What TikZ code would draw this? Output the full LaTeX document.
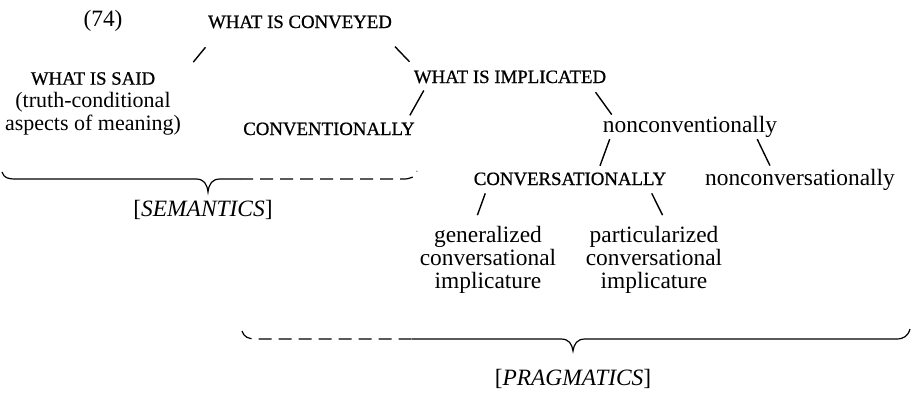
\documentclass[tikz,border=0pt]{standalone}
\usepackage{fontspec}
\setmainfont{Liberation Serif}
\newfontfamily\capsfont[FakeBold=0.8]{Liberation Serif}
\begin{document}
\begin{tikzpicture}[x=1pt, y=-1pt,
        font=\fontsize{23.4}{23}\selectfont,
        every node/.style={inner sep=0pt},
        lab/.style={anchor=base},
        caps/.style={anchor=base, font=\capsfont\fontsize{18.8}{23}\selectfont},
        block/.style={anchor=north, align=center},
        branch/.style={line width=1.4pt},
        bracket/.style={line width=1.2pt},
        gap/.style={bracket, dash pattern=on 13pt off 7pt}]
        \useasboundingbox (0,0) rectangle (914,392);

        % Tree labels
        \node (num) at (103,26) [lab] {(74)};
        \node (conveyed) at (300,28) [caps] {WHAT IS CONVEYED};
        \node (said) at (93,72) [block, font=\fontsize{22}{23}\selectfont] {{\capsfont\fontsize{18.8}{23}\selectfont WHAT IS SAID}\\(truth-conditional\\aspects of meaning)};
        \node (implicated) at (510,83) [caps] {WHAT IS IMPLICATED};
        \node (conv) at (329,135) [caps] {CONVENTIONALLY};
        \node (nonconv) at (690,132) [lab] {nonconventionally};
        \node (convers) at (570,185) [caps] {CONVERSATIONALLY};
        \node (nonconvers) at (800,185) [lab] {nonconversationally};
        \node (general) at (488,226) [block] {generalized\\conversational\\implicature};
        \node (partic) at (654,226) [block] {particularized\\conversational\\implicature};

        % Branches
        \draw[branch, shorten <=24.3pt, shorten >=12.8pt] ([xshift=13pt]conveyed.south west) -- ([xshift=4pt]said.north east);
        \draw[branch, shorten <=25.1pt, shorten >=11.9pt] ([xshift=-14.5pt]conveyed.south east) -- ([xshift=4pt]implicated.north west);
        \draw[branch, shorten <=8pt, shorten >=8pt] ([xshift=14pt]implicated.south west) -- ([xshift=-9pt]conv.north east);
        \draw[branch, shorten <=10.7pt, shorten >=1.2pt] ([xshift=-17pt]implicated.south east) -- ([xshift=9.7pt]nonconv.north west);
        \draw[branch, shorten <=2pt, shorten >=7pt] ([xshift=7.7pt]nonconv.south west) -- ([xshift=27.6pt]convers.north);
        \draw[branch, shorten <=2.1pt, shorten >=3.3pt] ([xshift=-21pt]nonconv.south east) -- ([xshift=-28.6pt]nonconvers.north);
        \draw[branch, shorten <=8.4pt, shorten >=11.5pt] ([xshift=14.5pt]convers.south west) -- ([xshift=-14.5pt]general.north);
        \draw[branch, shorten <=8.8pt, shorten >=12.1pt] ([xshift=-18.6pt]convers.south east) -- ([xshift=14pt]partic.north);

        % Semantics brace
        \draw[bracket] (2,172) .. controls (4,178) and (8,179) .. (16,179) -- (196,179)
            .. controls (204,179) and (207,184) .. (208,192)
            .. controls (209,184) and (212,179) .. (220,179) -- (240,179);
        \draw[gap] (240,179) -- (403,179) .. controls (411,179) and (415,177) .. (417,171);
        \node (sem) at (203,216) [lab] {[\textit{SEMANTICS}]};

        % Pragmatics brace
        \draw[gap] (242,331) .. controls (244,337) and (248,339) .. (256,339) -- (412,339);
        \draw[bracket] (412,339) -- (561,339)
            .. controls (569,339) and (572,344) .. (573,351)
            .. controls (574,344) and (577,339) .. (585,339) -- (896,339)
            .. controls (904,339) and (908,336) .. (910,329);
        \node (prag) at (573,385) [lab] {[\textit{PRAGMATICS}]};
    \end{tikzpicture}
\end{document}
